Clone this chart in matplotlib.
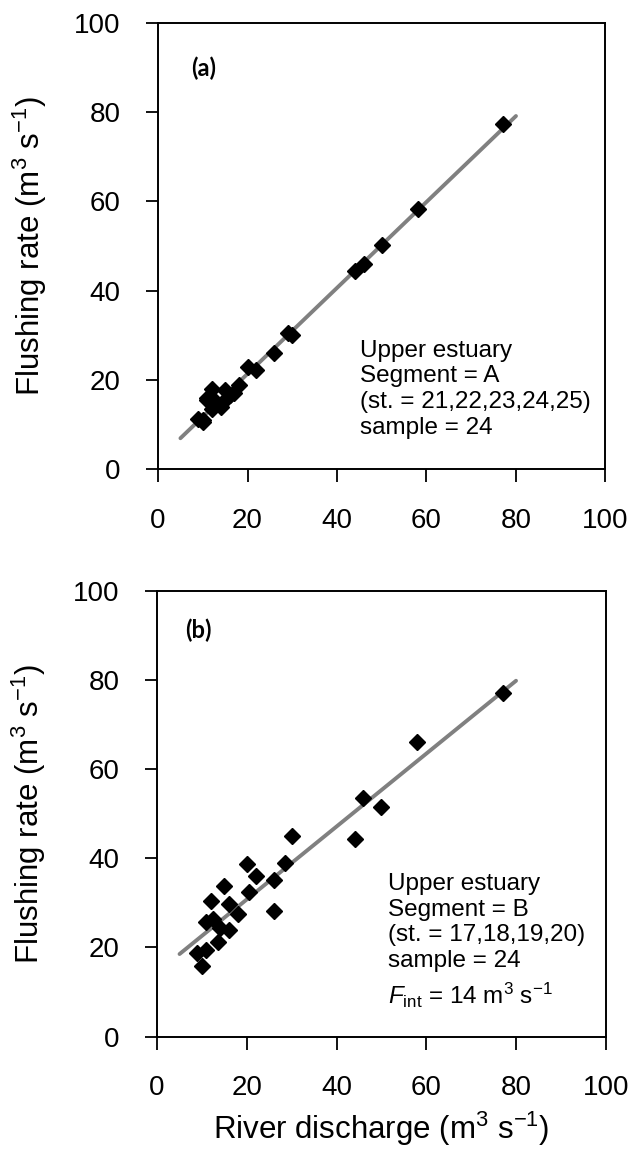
import numpy as np
import matplotlib.pyplot as plt

plt.rcParams['font.family'] = ['Liberation Sans', 'DejaVu Sans']
plt.rcParams['mathtext.fontset'] = 'custom'
plt.rcParams['mathtext.rm'] = 'Liberation Sans'
plt.rcParams['mathtext.it'] = 'Liberation Sans:italic'

# panel (a) - segment A
discharge_a = [77, 58, 50, 46, 44, 30, 29, 26, 22, 20, 18, 16, 15, 14, 12, 11, 10, 9, 11, 12, 13, 17, 15, 10]
flushing_a = [77.4, 58.3, 50.1, 46.0, 44.3, 30.0, 30.4, 25.9, 22.1, 22.9, 18.8, 16.5, 17.7, 13.9, 18.0, 15.4, 11.0, 11.3, 16.0, 13.5, 15.0, 17.0, 15.5, 10.5]
fit_x_a = [5, 80]
fit_y_a = [6.9, 79.1]

# panel (b) - segment B
discharge_b = [77, 58, 46, 50, 44, 30, 28.5, 26, 26, 20, 22, 20.5, 15, 12, 16, 18, 11, 12.5, 14, 16, 13.5, 11, 9, 10]
flushing_b = [77.0, 66.0, 53.5, 51.4, 44.2, 44.9, 39.0, 35.2, 28.2, 38.6, 36.0, 32.4, 33.7, 30.4, 29.7, 27.5, 25.7, 26.3, 24.3, 24.0, 21.3, 19.3, 18.7, 15.9]
fit_x_b = [5, 80]
fit_y_b = [18.5, 79.8]

ticks = [0, 20, 40, 60, 80, 100]

fig = plt.figure(figsize=(6.31, 11.49), dpi=100)
ax_a = fig.add_axes([0.2505, 0.5918, 0.709, 0.3884])
ax_b = fig.add_axes([0.2490, 0.0979, 0.711, 0.3880])


def draw_panel(ax, x, y, fx, fy, label, lab_xy, notes, notes_xy):
    ax.plot(fx, fy, color='#808080', lw=2.8, solid_capstyle='round', zorder=2)
    ax.plot(x, y, linestyle='none', marker='D', color='black', markersize=8.5, zorder=3)
    ax.set_xlim(0, 100)
    ax.set_ylim(0, 100)
    ax.set_xticks(ticks)
    ax.set_yticks(ticks)
    ax.tick_params(direction='out', length=9, width=1.3, labelsize=20,
                   top=False, right=False)
    ax.tick_params(axis='x', pad=19)
    ax.tick_params(axis='y', pad=18)
    for s in ax.spines.values():
        s.set_linewidth(1.4)
    ax.set_ylabel('Flushing rate (m$^3$ s$^{-1}$)', fontsize=22.5, labelpad=18)
    ax.text(lab_xy[0], lab_xy[1], label, transform=ax.transAxes, fontsize=17,
            fontweight='bold', family=['Lato', 'DejaVu Sans'], va='center')
    ax.text(notes_xy[0], notes_xy[1], notes, transform=ax.transAxes, fontsize=17.5,
            va='top', ha='left', linespacing=1.22)


draw_panel(ax_a, discharge_a, flushing_a, fit_x_a, fit_y_a, '(a)', (0.074, 0.897),
           'Upper estuary\nSegment = A\n(st. = 21,22,23,24,25)\nsample = 24', (0.452, 0.290))
draw_panel(ax_b, discharge_b, flushing_b, fit_x_b, fit_y_b, '(b)', (0.062, 0.911),
           'Upper estuary\nSegment = B\n(st. = 17,18,19,20)\nsample = 24', (0.514, 0.367))
ax_b.text(0.514, 0.073, r'$F_{\rm int}$ = 14 m$^3$ s$^{-1}$', transform=ax_b.transAxes,
          fontsize=17.5, va='baseline', ha='left')
ax_b.set_xlabel('River discharge (m$^3$ s$^{-1}$)', fontsize=22.5, labelpad=6)

fig.savefig('out.png', dpi=100)
